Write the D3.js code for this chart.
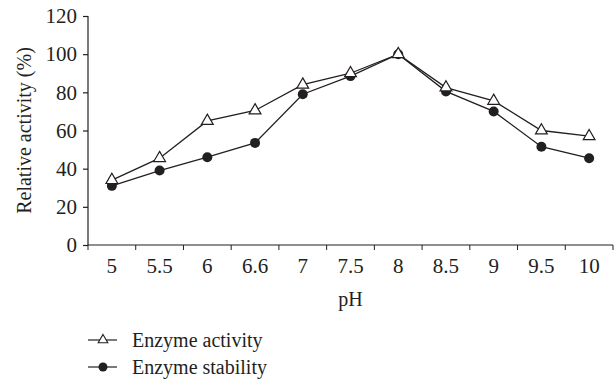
<!DOCTYPE html>
<html>
<head>
<meta charset="utf-8">
<script src="https://cdn.jsdelivr.net/npm/d3@7"></script>
<style>
  body { margin: 0; background: #fff; }
  svg text { font-family: "Liberation Serif", "DejaVu Serif", serif; fill: #231f20; }
</style>
</head>
<body>
<div id="chart"></div>
<script>
const phLabels = ["5", "5.5", "6", "6.6", "7", "7.5", "8", "8.5", "9", "9.5", "10"];
const activity = [34, 45.5, 65, 70.5, 84, 90, 100, 82.5, 75.5, 60, 57];
const stability = [31, 39, 46, 53.5, 79, 88.5, 100, 80.5, 70, 51.5, 45.5];
const yTicks = [0, 20, 40, 60, 80, 100, 120];

const width = 616, height = 379;
const margin = { top: 16, right: 3, bottom: 134, left: 88 };
const ink = "#231f20";

const svg = d3.select("#chart").append("svg")
  .attr("width", width)
  .attr("height", height);

const x = d3.scaleBand()
  .domain(phLabels)
  .range([margin.left, width - margin.right])
  .paddingInner(0);

const y = d3.scaleLinear()
  .domain([0, 120])
  .range([height - margin.bottom, margin.top]);

// Y axis
const yAxis = svg.append("g")
  .attr("transform", `translate(${margin.left},0)`)
  .call(d3.axisLeft(y).tickValues(yTicks).tickSize(5).tickPadding(6));
yAxis.selectAll("text").style("font-size", "21px").attr("fill", ink);

// X axis, ticks on the band edges
const xAxis = svg.append("g")
  .attr("transform", `translate(0,${y(0)})`)
  .call(d3.axisBottom(x).tickSize(0).tickPadding(13));
xAxis.selectAll("text").style("font-size", "21px").attr("fill", ink);
const edges = phLabels.map(d => x(d)).concat([x(phLabels[phLabels.length - 1]) + x.bandwidth()]);
xAxis.selectAll("line.edge")
  .data(edges)
  .enter().append("line")
  .attr("class", "edge")
  .attr("x1", d => d).attr("x2", d => d)
  .attr("y1", 0).attr("y2", 5)
  .attr("stroke", ink);

svg.selectAll(".domain, .tick line").attr("stroke", ink).attr("stroke-width", 1.2);
svg.selectAll(".domain").attr("d", function () {
  return d3.select(this.parentNode).attr("transform").includes(`,${y(0)}`)
    ? `M${margin.left},0H${width - margin.right}`
    : `M0,${y(120)}V${y(0)}`;
});

// Axis titles
svg.append("text")
  .attr("transform", `translate(31,${(y(0) + y(120)) / 2}) rotate(-90)`)
  .attr("text-anchor", "middle")
  .style("font-size", "20px")
  .text("Relative activity (%)");

svg.append("text")
  .attr("x", (margin.left + width - margin.right) / 2)
  .attr("y", 306)
  .attr("text-anchor", "middle")
  .style("font-size", "20px")
  .text("pH");

// Lines
const cx = d => x(d) + x.bandwidth() / 2;
const line = d3.line()
  .x((v, i) => cx(phLabels[i]))
  .y(v => y(v));

svg.append("path").datum(activity)
  .attr("fill", "none").attr("stroke", ink).attr("stroke-width", 1.3)
  .attr("d", line);
svg.append("path").datum(stability)
  .attr("fill", "none").attr("stroke", ink).attr("stroke-width", 1.3)
  .attr("d", line);

const tri = d3.symbol().type(d3.symbolTriangle);

svg.selectAll("circle.stab")
  .data(stability)
  .enter().append("circle")
  .attr("class", "stab")
  .attr("cx", (v, i) => cx(phLabels[i]))
  .attr("cy", v => y(v))
  .attr("r", 5)
  .attr("fill", ink);

svg.selectAll("path.act")
  .data(activity)
  .enter().append("path")
  .attr("class", "act")
  .attr("d", tri.size(60)())
  .attr("transform", (v, i) => `translate(${cx(phLabels[i])},${y(v)})`)
  .attr("fill", "#fff")
  .attr("stroke", ink)
  .attr("stroke-width", 1.2);

// Legend
const legend = [
  { label: "Enzyme activity", kind: "tri" },
  { label: "Enzyme stability", kind: "dot" }
];
const lg = svg.selectAll("g.legend")
  .data(legend)
  .enter().append("g")
  .attr("class", "legend")
  .attr("transform", (d, i) => `translate(88,${340 + i * 27})`);
lg.append("line")
  .attr("x1", 0).attr("x2", 29)
  .attr("stroke", ink).attr("stroke-width", 1.2);
lg.filter(d => d.kind === "tri").append("path")
  .attr("d", tri.size(40)())
  .attr("transform", "translate(15,0)")
  .attr("fill", "#fff").attr("stroke", ink).attr("stroke-width", 1.1);
lg.filter(d => d.kind === "dot").append("circle")
  .attr("cx", 15).attr("r", 4.5).attr("fill", ink);
lg.append("text")
  .attr("x", 44).attr("dy", "0.35em")
  .style("font-size", "20px")
  .text(d => d.label);
</script>
</body>
</html>
